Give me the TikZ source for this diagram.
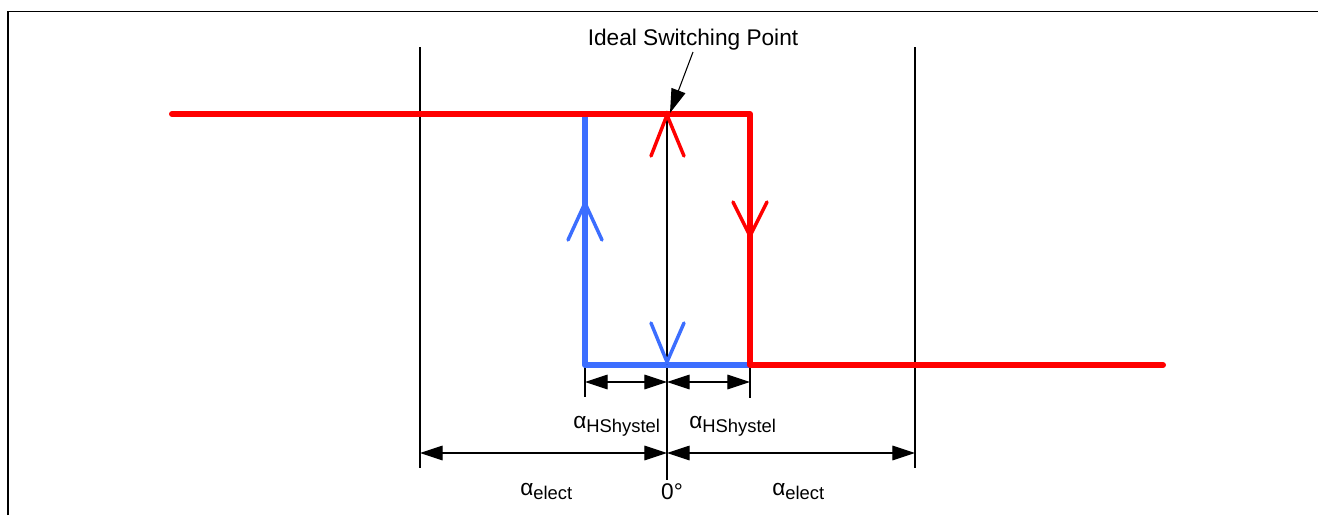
\documentclass[tikz,border=0pt]{standalone}
\usepackage{fontspec}
\setmainfont{Liberation Sans}
\usetikzlibrary{arrows.meta}
\definecolor{hred}{RGB}{255,0,0}
\definecolor{hblue}{RGB}{60,110,255}
\newcommand{\mainsz}{\fontsize{17}{20}\selectfont}
\newcommand{\subsz}{\fontsize{13.8}{16}\selectfont}
\newcommand{\alphasub}[1]{{\mainsz α}\raisebox{-3.5pt}{\subsz #1}}
\begin{document}
\begin{tikzpicture}[x=0.75pt,y=-0.75pt,
  redline/.style={draw=hred,line width=4.5pt,line cap=round,line join=round},
  blueline/.style={draw=hblue,line width=4.5pt,line cap=round,line join=round},
  vred/.style={draw=hred,line width=2.6pt,line cap=round,line join=miter},
  vblue/.style={draw=hblue,line width=2.6pt,line cap=round,line join=miter},
  thin/.style={draw=black,line width=0.8pt},
  dimarrow/.style={draw=black,line width=0.8pt,{Triangle[length=17pt,width=11pt]}-{Triangle[length=17pt,width=11pt]}},
  lbl/.style={inner sep=0pt,font=\mainsz}]
\useasboundingbox (0,0) rectangle (1318,515);
% frame (top and left)
\coordinate (frBL) at (8,515);
\coordinate (frTL) at (8,11.5);
\coordinate (frTR) at (1318,11.5);
\draw[line width=1.2pt] (frBL) -- (frTL) -- (frTR);
% key points
\coordinate (redL) at (172,114);
\coordinate (redTR) at (750,114);
\coordinate (redBR) at (750,365);
\coordinate (redE) at (1163,365);
\coordinate (blueT) at (585,114);
\coordinate (blueB) at (585,365);
\coordinate (zeroT) at (667,114);
\coordinate (zeroB) at (667,365);
\coordinate (zeroEnd) at (667,480);
\coordinate (elTop) at (420,47);
\coordinate (elBot) at (420,468);
\coordinate (erTop) at (915,47);
\coordinate (erBot) at (915,468);
\coordinate (hlBot) at (585,397);
\coordinate (hrBot) at (750,398);
\coordinate (hA) at (585,382);
\coordinate (hB) at (667,382);
\coordinate (hC) at (750,382);
\coordinate (eA) at (420,453);
\coordinate (eB) at (667,453);
\coordinate (eC) at (915,453);
% extension lines
\draw[thin] (elTop) -- (elBot);
\draw[thin] (erTop) -- (erBot);
\draw[thin] (blueB) -- (hlBot);
\draw[thin] (redBR) -- (hrBot);
\draw[thin] (zeroB) -- (zeroEnd);
% hysteresis curves
\draw[blueline] (blueT) -- (blueB) -- (redBR);
\draw[redline] (redL) -- (redTR) -- (redBR) -- (redE);
\draw[black,line width=1.9pt] (zeroT) -- (zeroB);
% direction marks
\coordinate (tipRedUp) at (667,115);
\coordinate (tipBlueUp) at (585,203);
\coordinate (tipRedDown) at (750,236);
\coordinate (tipBlueDown) at (667,362);
\draw[vred] (tipRedUp) +(-16,41) -- (tipRedUp) -- +(17,41);
\draw[vblue] (tipBlueUp) +(-17,37) -- (tipBlueUp) -- +(17,37);
\draw[vred] (tipRedDown) +(-17,-34) -- (tipRedDown) -- +(17,-34);
\draw[vblue] (tipBlueDown) +(-16,-39) -- (tipBlueDown) -- +(17,-39);
% dimension arrows
\draw[dimarrow] (hA) -- (hB);
\draw[dimarrow] (hB) -- (hC);
\draw[dimarrow] (eA) -- (eB);
\draw[dimarrow] (eB) -- (eC);
% labels
\node[lbl,anchor=base] (isp) at (693,45) {Ideal Switching Point};
\coordinate (ispTip) at (670,113);
\draw[black,line width=0.8pt,-{Triangle[length=18pt,width=11pt]}] (693,52) -- (ispTip);
\node[lbl,anchor=base west] (hysL) at (573,428) {\alphasub{HShystel}};
\node[lbl,anchor=base west] (hysR) at (689,428) {\alphasub{HShystel}};
\node[lbl,anchor=base west] (elL) at (520,495) {\alphasub{elect}};
\node[lbl,anchor=base west] (elR) at (772,495) {\alphasub{elect}};
\node[lbl,anchor=base] (zero) at (672,499) {0°};
\end{tikzpicture}
\end{document}
